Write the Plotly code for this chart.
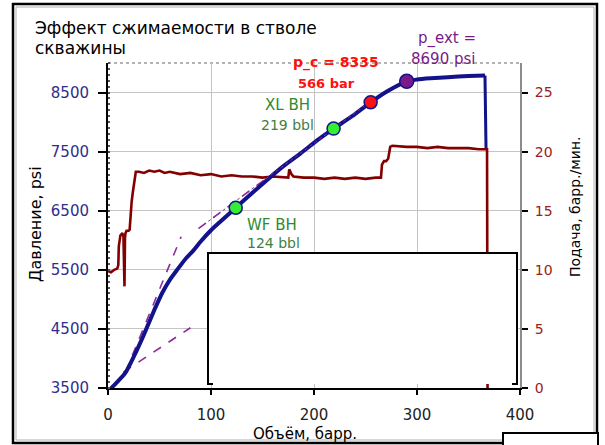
import plotly.graph_objects as go

# Cumulative pumped volume (bbl) vs bottom-hole pressure (psi)
vol_p = [0, 5, 10, 17, 25, 34, 46, 53, 60, 68, 75, 83, 90, 100, 110, 124, 140,
         155, 170, 187, 203, 219, 237, 255, 272, 290, 300, 313, 330, 350, 366, 367]
pressure = [3440, 3530, 3620, 3760, 4030, 4370, 4860, 5120, 5330, 5520, 5680, 5830,
            5980, 6170, 6330, 6550, 6800, 7030, 7250, 7470, 7690, 7890, 8100, 8335,
            8530, 8690, 8720, 8740, 8760, 8780, 8790, 7560]

# Pump rate (bbl/min) vs volume
vol_q = [0, 3, 6, 9, 10, 10.5, 11.5, 12, 13, 14, 15, 16, 16.5, 17, 18, 20, 21, 22,
         23, 24, 25, 26, 27, 30, 35, 40, 45, 50, 55, 60, 70, 80, 90, 100, 110, 120,
         130, 140, 150, 160, 170, 175, 176, 178, 180, 190, 200, 210, 220, 230, 240,
         250, 260, 265, 266, 268, 270, 272, 274, 276, 290, 300, 310, 320, 330, 340,
         350, 360, 366, 368, 368.5]
rate = [9.9, 9.8, 10.0, 10.1, 10.4, 12.0, 12.6, 12.9, 13.0, 13.1, 12.8, 8.6, 12.7,
        13.1, 13.3, 13.3, 13.4, 14.8, 15.8, 16.5, 17.0, 17.6, 18.3, 18.3, 18.2, 18.4,
        18.3, 18.4, 18.2, 18.3, 18.1, 18.2, 18.0, 18.1, 17.9, 18.0, 17.9, 17.9, 17.8,
        17.9, 17.8, 17.8, 18.5, 18.1, 17.9, 17.8, 17.8, 17.7, 17.8, 17.7, 17.8, 17.7,
        17.8, 17.8, 18.9, 19.2, 19.2, 19.4, 20.4, 20.5, 20.4, 20.4, 20.3, 20.4, 20.3,
        20.3, 20.3, 20.2, 20.2, 20.2, 0]

# Straight-line fits (dashed)
fit1_x, fit1_y = [15, 80], [3770, 4520]
fit2_x, fit2_y = [17, 71], [3770, 6060]
fit3_x, fit3_y = [88, 258], [6200, 8390]

# Key points
bh_vol = [124, 219]
bh_p = [6550, 7890]
pc_vol, pc_p = [255], [8335]
pext_vol, pext_p = [290], [8690]

x_ticks = [0, 100, 200, 300, 400]
p_ticks = [3500, 4500, 5500, 6500, 7500, 8500]
q_ticks = [0, 5, 10, 15, 20, 25]

W, H = 605, 445
L, R, T, B = 108, 520, 63, 388
FONT = "DejaVu Sans"
NAVY = "#12128a"
MAROON = "#820000"
PURPLE = "#8e2a9e"


def px(x):
    return (x - L) / (R - L)


def py(y):
    return (B - y) / (B - T)


fig = go.Figure()

fig.add_trace(go.Scatter(x=vol_q, y=rate, yaxis="y", mode="lines",
                         line=dict(color=MAROON, width=2.6), hoverinfo="skip"))

for fx, fy in [(fit1_x, fit1_y), (fit2_x, fit2_y), (fit3_x, fit3_y)]:
    fig.add_trace(go.Scatter(x=fx, y=fy, yaxis="y2", mode="lines",
                             line=dict(color=PURPLE, width=1.6, dash="dash")))

# smooth build-up part, then the straight shut-in drop
fig.add_trace(go.Scatter(x=vol_p[:-1], y=pressure[:-1], yaxis="y2", mode="lines",
                         line=dict(color=NAVY, width=4, shape="spline", smoothing=0.6)))
fig.add_trace(go.Scatter(x=vol_p[-2:], y=pressure[-2:], yaxis="y2", mode="lines",
                         line=dict(color=NAVY, width=3)))
fig.add_trace(go.Scatter(x=fit3_x, y=fit3_y, yaxis="y2", mode="lines",
                         line=dict(color=PURPLE, width=1, dash="dot")))

fig.add_trace(go.Scatter(x=bh_vol, y=bh_p, yaxis="y2", mode="markers",
                         marker=dict(size=13, color="#33ee33", line=dict(color=NAVY, width=1.5))))
fig.add_trace(go.Scatter(x=pc_vol, y=pc_p, yaxis="y2", mode="markers",
                         marker=dict(size=13, color="#ff1010", line=dict(color=NAVY, width=1.5))))
fig.add_trace(go.Scatter(x=pext_vol, y=pext_p, yaxis="y2", mode="markers",
                         marker=dict(size=14, color="#7a1a8a", line=dict(color=NAVY, width=1.5))))

shapes = []
# dotted top border of the plot
shapes.append(dict(type="line", xref="paper", yref="paper", x0=0, x1=1, y0=1, y1=1,
                   line=dict(color="#9a9a9a", width=1.5, dash="dot"), layer="below"))
# empty white box inside the plot
shapes.append(dict(type="rect", xref="paper", yref="paper",
                   x0=px(208), x1=px(517), y0=py(384), y1=py(253),
                   fillcolor="white", line=dict(width=0), layer="above"))
shapes.append(dict(type="path", xref="paper", yref="paper",
                   path=f"M{px(213)},{py(384)} L{px(208)},{py(384)} L{px(208)},{py(253)} "
                        f"L{px(517)},{py(253)} L{px(517)},{py(384)} L{px(512)},{py(384)}",
                   line=dict(color="black", width=2), layer="above"))
# outer frame
shapes.append(dict(type="rect", xref="paper", yref="paper",
                   x0=px(13), x1=px(597), y0=py(443), y1=py(4),
                   line=dict(color="black", width=2.5), layer="above"))
shapes.append(dict(type="rect", xref="paper", yref="paper",
                   x0=px(16), x1=px(594), y0=py(440), y1=py(7),
                   line=dict(color="#b0b0b0", width=1), layer="above"))
# small box at the lower right corner
shapes.append(dict(type="rect", xref="paper", yref="paper",
                   x0=px(503), x1=px(598), y0=py(447), y1=py(433),
                   fillcolor="white", line=dict(color="black", width=2), layer="above"))

ann = []


def label(text, x, y, color="black", size=14, angle=0, xanchor="center", bold=False):
    t = f"<b>{text}</b>" if bold else text
    ann.append(dict(text=t, x=px(x), y=py(y), xref="paper", yref="paper",
                    showarrow=False, textangle=angle, xanchor=xanchor, yanchor="middle",
                    font=dict(family=FONT, size=size, color=color)))


label("Эффект сжимаемости в стволе", 33, 28, size=17, xanchor="left")
label("скважины", 33, 48, size=17, xanchor="left")
label("p_c = 8335", 336, 62, color="#ff1010", size=14, bold=True)
label("566 bar", 326, 83, color="#ff1010", size=13, bold=True)
label("p_ext =", 447, 38, color="#7a1a8a", size=15)
label("8690 psi", 443, 59, color="#7a1a8a", size=15)
label("XL BH", 287, 105, color="#2e8b2e", size=15)
label("219 bbl", 287, 125, color="#3f7f3f", size=14)
label("WF BH", 272, 225, color="#2e8b2e", size=15)
label("124 bbl", 273, 243, color="#3f7f3f", size=14)
label("Давление, psi", 35, 224, size=16, angle=-90)
label("Объём, барр.", 305, 434, size=15)
label("Подача, барр./мин.", 575, 207, size=14, angle=-90)

fig.update_layout(
    width=W, height=H,
    margin=dict(l=L, r=W - R, t=T, b=H - B, pad=0),
    paper_bgcolor="white", plot_bgcolor="white",
    showlegend=False,
    shapes=shapes, annotations=ann,
    xaxis=dict(range=[0, 400], tickvals=x_ticks, showgrid=True, gridcolor="#c4c4c4",
               gridwidth=1, zeroline=False, showline=True, linecolor="black", linewidth=2,
               ticks="outside", ticklen=5, tickwidth=1.5, tickcolor="black",
               ticklabelstandoff=7,
               tickfont=dict(family=FONT, size=15, color="#222222")),
    yaxis=dict(range=[0, 27.5], tickvals=q_ticks, side="right", showgrid=False,
               zeroline=False, showline=True, linecolor="#8c8c8c", linewidth=2,
               ticks="outside", ticklen=6, tickwidth=1.5, tickcolor="black",
               ticklabelstandoff=4,
               tickfont=dict(family=FONT, size=14, color="#9b2020")),
    yaxis2=dict(range=[3500, 9000], tickvals=p_ticks, side="left", overlaying="y",
                showgrid=True, gridcolor="#c4c4c4", gridwidth=1, zeroline=False,
                showline=True, linecolor="black", linewidth=2,
                ticks="outside", ticklen=8, tickwidth=1.5, tickcolor="black",
                ticklabelstandoff=6,
                minor=dict(ticks="inside", ticklen=2, dtick=100, tickcolor="#555555",
                           showgrid=False),
                tickfont=dict(family=FONT, size=15, color="#2e2e8c")),
)

fig.write_html("out.html")
